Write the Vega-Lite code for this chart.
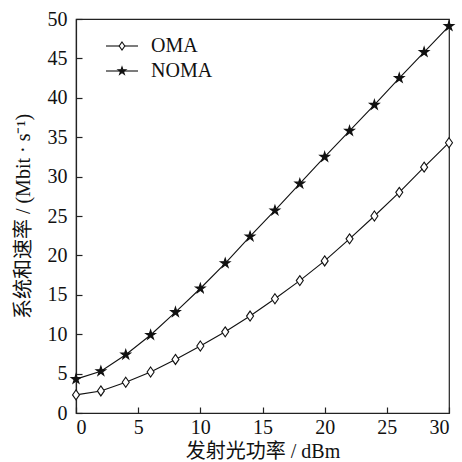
{
  "$schema": "https://vega.github.io/schema/vega-lite/v6.json",
  "width": 373,
  "height": 394,
  "autosize": {"type": "none"},
  "padding": {"left": 76, "top": 19, "right": 13, "bottom": 49},
  "background": "white",
  "config": {
    "font": "Liberation Serif, Noto Serif CJK SC, Noto Sans CJK SC",
    "view": {"stroke": "#222", "strokeWidth": 1.2},
    "axis": {
      "grid": false,
      "domainColor": "#222",
      "domainWidth": 1.2,
      "tickColor": "#222",
      "tickWidth": 1.2,
      "labelColor": "#111",
      "titleColor": "#111",
      "labelFont": "Liberation Serif",
      "labelFontSize": 20,
      "titleFont": "Liberation Serif, Noto Sans CJK SC",
      "titleFontSize": 20,
      "titleFontWeight": "normal"
    },
    "legend": {
      "labelFont": "Liberation Serif",
      "labelFontSize": 20,
      "labelColor": "#111"
    }
  },
  "data": {
    "values": [
      {"x": 0, "y": 2.3, "s": "OMA"},
      {"x": 2, "y": 2.8, "s": "OMA"},
      {"x": 4, "y": 3.9, "s": "OMA"},
      {"x": 6, "y": 5.2, "s": "OMA"},
      {"x": 8, "y": 6.8, "s": "OMA"},
      {"x": 10, "y": 8.5, "s": "OMA"},
      {"x": 12, "y": 10.3, "s": "OMA"},
      {"x": 14, "y": 12.3, "s": "OMA"},
      {"x": 16, "y": 14.5, "s": "OMA"},
      {"x": 18, "y": 16.8, "s": "OMA"},
      {"x": 20, "y": 19.3, "s": "OMA"},
      {"x": 22, "y": 22.1, "s": "OMA"},
      {"x": 24, "y": 25.0, "s": "OMA"},
      {"x": 26, "y": 28.0, "s": "OMA"},
      {"x": 28, "y": 31.2, "s": "OMA"},
      {"x": 30, "y": 34.3, "s": "OMA"},
      {"x": 0, "y": 4.3, "s": "NOMA"},
      {"x": 2, "y": 5.3, "s": "NOMA"},
      {"x": 4, "y": 7.4, "s": "NOMA"},
      {"x": 6, "y": 9.9, "s": "NOMA"},
      {"x": 8, "y": 12.8, "s": "NOMA"},
      {"x": 10, "y": 15.8, "s": "NOMA"},
      {"x": 12, "y": 19.0, "s": "NOMA"},
      {"x": 14, "y": 22.4, "s": "NOMA"},
      {"x": 16, "y": 25.7, "s": "NOMA"},
      {"x": 18, "y": 29.1, "s": "NOMA"},
      {"x": 20, "y": 32.5, "s": "NOMA"},
      {"x": 22, "y": 35.8, "s": "NOMA"},
      {"x": 24, "y": 39.1, "s": "NOMA"},
      {"x": 26, "y": 42.5, "s": "NOMA"},
      {"x": 28, "y": 45.8, "s": "NOMA"},
      {"x": 30, "y": 49.1, "s": "NOMA"}
    ]
  },
  "encoding": {
    "x": {
      "field": "x", "type": "quantitative",
      "scale": {"domain": [0, 30], "nice": false},
      "axis": {"values": [0, 5, 10, 15, 20, 25, 30], "tickSize": -6, "labelPadding": 10, "title": "发射光功率 / dBm", "titlePadding": 4}
    },
    "y": {
      "field": "y", "type": "quantitative",
      "scale": {"domain": [0, 50], "nice": false},
      "axis": {"values": [0, 5, 10, 15, 20, 25, 30, 35, 40, 45, 50], "tickSize": -6, "labelPadding": 15, "title": "系统和速率 / (Mbit · s⁻¹)", "titlePadding": 14}
    }
  },
  "layer": [
    {
      "mark": {"type": "line", "strokeWidth": 1.1},
      "encoding": {
        "stroke": {
          "field": "s", "type": "nominal",
          "scale": {"domain": ["NOMA", "OMA"], "range": ["#111", "#111"]},
          "legend": {
            "title": null,
            "orient": "none",
            "legendX": 36,
            "legendY": 17,
            "padding": 0,
            "symbolSize": 64,
            "symbolType": "M-4,0L4,0",
            "symbolStrokeWidth": 1.1,
            "labelOffset": 230,
            "labelOpacity": 0,
            "rowPadding": 5,
            "zindex": 0
          }
        }
      }
    },
    {
      "mark": {"type": "point", "filled": true, "stroke": "#111", "strokeWidth": 1.1, "size": 100, "opacity": 1},
      "encoding": {
        "shape": {
          "field": "s", "type": "nominal",
          "scale": {"domain": ["OMA", "NOMA"], "range": ["M0,-1L0.7,0L0,1L-0.7,0Z", "M0,-1L0.224,-0.309L0.951,-0.309L0.363,0.118L0.588,0.809L0,0.38L-0.588,0.809L-0.363,0.118L-0.951,-0.309L-0.224,-0.309Z"]},
          "legend": {
            "title": null,
            "orient": "none",
            "legendX": 36,
            "legendY": 17,
            "padding": 0,
            "symbolSize": 64,
            "symbolStrokeWidth": 1.1,
            "labelOffset": 19,
            "rowPadding": 5,
            "zindex": 1
          }
        },
        "fill": {
          "field": "s", "type": "nominal",
          "scale": {"domain": ["OMA", "NOMA"], "range": ["white", "#111"]},
          "legend": {
            "title": null,
            "orient": "none",
            "legendX": 36,
            "legendY": 17,
            "padding": 0,
            "symbolSize": 64,
            "symbolStrokeWidth": 1.1,
            "labelOffset": 19,
            "rowPadding": 5,
            "zindex": 1
          }
        }
      }
    }
  ]
}
